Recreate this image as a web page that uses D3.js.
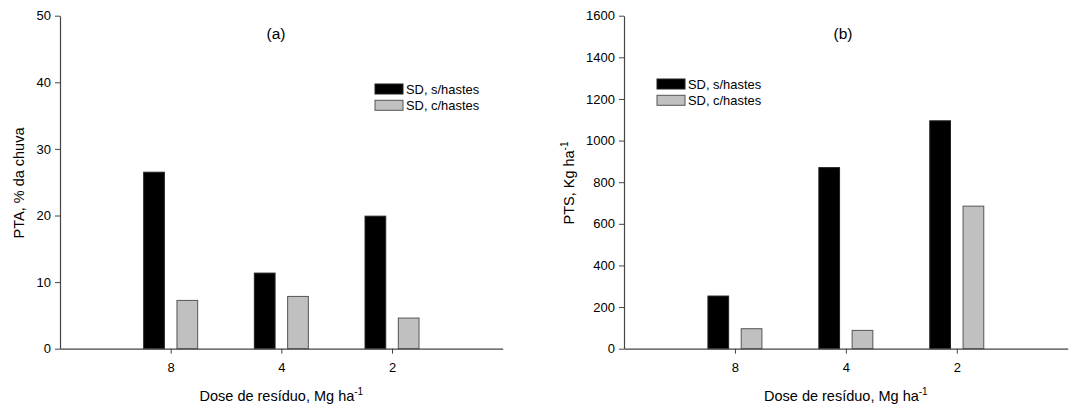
<!DOCTYPE html>
<html><head><meta charset="utf-8">
<script src="https://cdn.jsdelivr.net/npm/d3@7"></script>
<style>body{margin:0;background:#fff}svg{display:block;font-family:"Liberation Sans",Arial,sans-serif}</style>
</head><body><svg id="c" width="1089" height="408"></svg>
<script>
const categories = ["8", "4", "2"];
const seriesNames = ["SD, s/hastes", "SD, c/hastes"];
const ptaBlack = [26.5, 11.35, 19.9];
const ptaGray = [7.25, 7.85, 4.6];
const ptsBlack = [253, 870, 1095];
const ptsGray = [96, 88, 685];
const ptaTicks = [0, 10, 20, 30, 40, 50];
const ptsTicks = [0, 200, 400, 600, 800, 1000, 1200, 1400, 1600];

const colors = ["#000000", "#c0c0c0"];
const svg = d3.select("#c");

function panel(o) {
  const g = svg.append("g");
  const x = d3.scaleLinear().domain([0, 4]).range([o.x0, o.x1]);
  const y = d3.scaleLinear().domain([0, o.ymax]).range([348.7, 15.7]);
  const sub = d3.scaleBand().domain(seriesNames).range([-27, 27]).paddingInner(0.378);
  const series = [o.black, o.gray];
  series.forEach((vals, si) => {
    g.selectAll(null).data(vals).enter().append("rect")
      .attr("x", (d, i) => x(i + 1) + sub(seriesNames[si]))
      .attr("width", sub.bandwidth())
      .attr("y", d => y(d))
      .attr("height", d => y(0) - y(d))
      .attr("fill", colors[si])
      .attr("stroke", si === 0 ? "#222" : "#555")
      .attr("stroke-width", 1);
  });
  const ya = g.append("g").attr("transform", `translate(${o.x0},0)`)
    .call(d3.axisLeft(y).tickValues(o.ticks).tickSize(5).tickSizeOuter(0).tickPadding(4).tickFormat(d3.format("d")));
  const xa = g.append("g").attr("transform", `translate(0,${y(0)})`)
    .call(d3.axisBottom(x).tickValues([1, 2, 3]).tickSize(5).tickSizeOuter(0).tickPadding(9).tickFormat((d) => categories[d - 1]));
  [ya, xa].forEach(a => {
    a.select(".domain").attr("stroke", "#444").attr("stroke-width", 1.2);
    a.selectAll(".tick line").attr("stroke", "#444");
    a.selectAll("text").attr("font-size", 13).attr("fill", "#000").attr("font-family", "Liberation Sans, Arial, sans-serif");
  });
  // title
  g.append("text").attr("x", o.tx).attr("y", 39).attr("text-anchor", "middle")
    .attr("font-size", 15.5).text(o.title);
  // x label
  const xl = g.append("text").attr("x", (o.x0 + o.x1) / 2).attr("y", 401).attr("text-anchor", "middle").attr("font-size", 14.5);
  xl.append("tspan").text("Dose de resíduo, Mg ha");
  xl.append("tspan").attr("font-size", 10).attr("dy", -6).text("-1");
  // y label
  const yl = g.append("text").attr("transform", `translate(${o.ylx},183) rotate(-90)`).attr("text-anchor", "middle").attr("font-size", 14.5);
  yl.append("tspan").text(o.ylabel);
  if (o.ysup) yl.append("tspan").attr("font-size", 10).attr("dy", -6).text(o.ysup);
  // legend
  seriesNames.forEach((s, i) => {
    g.append("rect").attr("x", o.lx).attr("y", o.ly + i * 16.3).attr("width", 28).attr("height", 10)
      .attr("fill", colors[i]).attr("stroke", i === 0 ? "#222" : "#555");
    g.append("text").attr("x", o.lx + 31).attr("y", o.ly + i * 16.3 + 10).attr("font-size", 12.9).text(s);
  });
}

panel({x0: 60, x1: 502.7, ymax: 50, ticks: ptaTicks, black: ptaBlack, gray: ptaGray,
  title: "(a)", tx: 276, ylabel: "PTA, % da chuva", ylx: 24, lx: 375, ly: 84});
panel({x0: 624, x1: 1067.7, ymax: 1600, ticks: ptsTicks, black: ptsBlack, gray: ptsGray,
  title: "(b)", tx: 843, ylabel: "PTS, Kg ha", ysup: "-1", ylx: 574, lx: 657, ly: 79});
</script></body></html>
